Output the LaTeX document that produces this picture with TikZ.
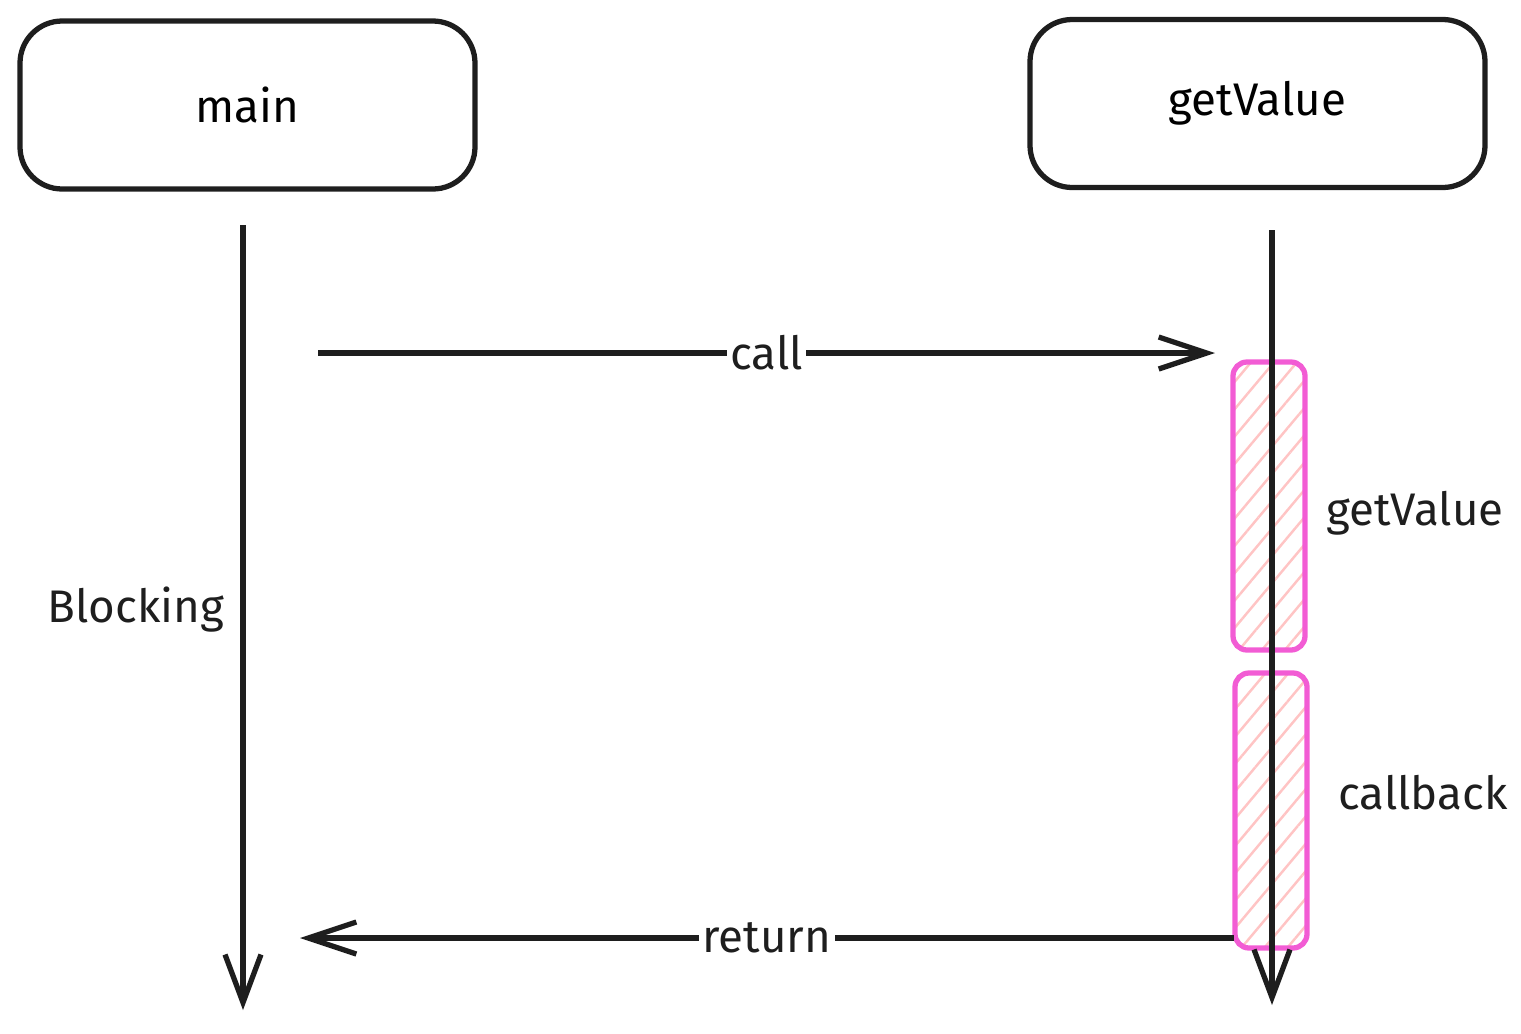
\documentclass[tikz,border=0pt]{standalone}
\usepackage{fontspec}
\setmainfont{Fira Sans}
\usetikzlibrary{arrows.meta,patterns.meta}
\definecolor{ink}{HTML}{1E1E1E}
\definecolor{actline}{HTML}{F25CD4}
\definecolor{acthatch}{HTML}{FFC4C4}

\begin{document}
\begin{tikzpicture}[
    font=\fontsize{13}{15}\selectfont,
    box/.style={draw=ink, line width=1.5pt, rounded corners=12pt, minimum width=4.55cm, minimum height=1.68cm, align=center},
    activation/.style={draw=actline, line width=1.5pt, rounded corners=4pt, minimum width=0.72cm,
      pattern={Lines[angle=50, distance=5pt, line width=0.7pt]}, pattern color=acthatch},
    lifeline/.style={draw=ink, line width=1.5pt, -{Straight Barb[length=4.8mm, width=3.6mm, line width=1.5pt]}},
    message/.style={draw=ink, line width=1.5pt, -{Straight Barb[length=4.8mm, width=3.2mm, line width=1.5pt]}},
    label/.style={fill=white, inner sep=1pt, text=ink},
    side/.style={text=ink}
  ]
    \useasboundingbox (0,0) rectangle (15.21,-10.33);

    \node[box] (main) at (2.475,-1.05) {main};
    \node[box] (getvalue) at (12.575,-1.035) {getValue};

    \node[activation, minimum height=2.88cm] (work) at (12.69,-5.06) {};
    \node[activation, minimum height=2.75cm] (cb) at (12.71,-8.105) {};

    \coordinate (mainTop) at (2.43,-2.25);
    \coordinate (mainEnd) at (2.43,-10.10);
    \coordinate (getTop) at (12.72,-2.30);
    \coordinate (getEnd) at (12.72,-10.05);
    \coordinate (callFrom) at (3.18,-3.53);
    \coordinate (callTo) at (12.15,-3.53);
    \coordinate (retFrom) at (12.34,-9.38);
    \coordinate (retTo) at (3.00,-9.38);

    \draw[lifeline] (mainTop) -- (mainEnd);
    \draw[lifeline] (getTop) -- (getEnd);
    \draw[message] (callFrom) -- node[label] (calllabel) {call} (callTo);
    \draw[message] (retFrom) -- node[label] (retlabel) {return} (retTo);

    \node[side] (blocking) at (1.36,-6.10) {Blocking};
    \node[side] (worklabel) at (14.15,-5.13) {getValue};
    \node[side] (cblabel) at (14.23,-7.93) {callback};
  \end{tikzpicture}
\end{document}
